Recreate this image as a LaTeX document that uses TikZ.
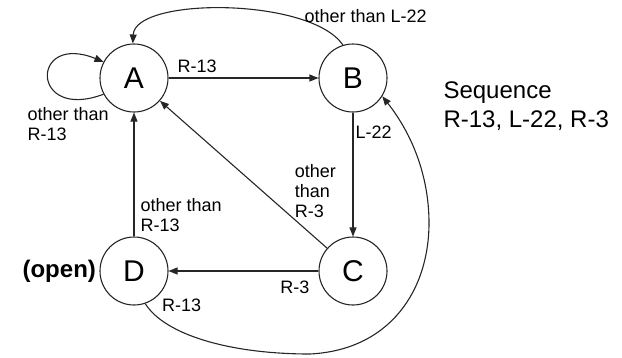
\documentclass[tikz,border=0pt]{standalone}
\usepackage{fontspec}
\setmainfont{Liberation Sans}
\usetikzlibrary{arrows.meta,automata}

\begin{document}
\begin{tikzpicture}[x=1pt,y=-1pt,->,>={Stealth[length=9pt,width=7pt,inset=0pt]},line width=1.1pt,draw=black!85,node distance=219pt]
  \tikzstyle{every state}=[draw=black!85,line width=1.1pt,minimum size=68pt,inner sep=0pt,font=\fontsize{30}{30}\selectfont]
  \tikzstyle{lbl}=[font=\fontsize{18}{20}\selectfont,inner sep=1pt,align=left]
  \useasboundingbox (0,0) rectangle (622,357);

  \node[state] (A) at (134,78)  {A};
  \node[state] (B) [right of=A] {B};
  \node[state] (D) [below of=A,node distance=193pt] {D};
  \node[state] (C) [right of=D] {C};

  \path (A) edge node[lbl,pos=0.05,anchor=base west,yshift=6pt] {R-13} (B)
        (B) edge node[lbl,pos=0.21,anchor=base west,xshift=1pt] {L-22} (C)
        (C) edge node[lbl,pos=0.16,anchor=south west,xshift=-7pt,yshift=5pt] {other\\than\\R-3} (A)
        (C) edge node[lbl,pos=0.05,anchor=north east,yshift=-8pt] {R-3} (D)
        (D) edge node[lbl,pos=0.03,anchor=south west,xshift=5pt] {other than\\R-13} (A);

  % loop on A
  \draw (A.208) .. controls (30,122) and (30,32) .. node[lbl,pos=0.2,anchor=north,yshift=-7pt] {other than\\R-13} (A.152);
  % back to A from B
  \draw (B.107) .. controls (310,-3) and (135,-3) .. node[lbl,pos=0.1,anchor=base west,xshift=-26pt,yshift=10pt] {other than L-22} (A.92);
  % round the outside from D to B
  \draw (D.-71) .. controls (165,335) and (230,354) .. node[lbl,pos=0.1,anchor=base west,xshift=8pt,yshift=1pt] {R-13} (310,354)
        .. controls (390,350) and (430,290) .. (429,220)
        .. controls (428,165) and (405,125) .. (B.-32);

  \node[font=\bfseries\fontsize{24}{24}\selectfont,anchor=east,inner sep=3pt] (openlbl) at (D.west) {(open)};
  \node[font=\fontsize{24}{29}\selectfont,align=left,anchor=north west,inner sep=0pt] (seq) at (443,81) {Sequence\\R-13, L-22, R-3};
\end{tikzpicture}
\end{document}
